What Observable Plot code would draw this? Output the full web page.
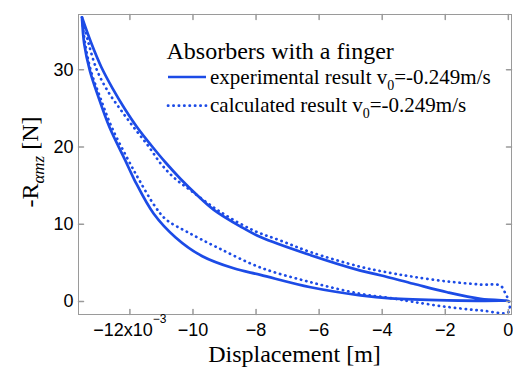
<!DOCTYPE html>
<html><head><meta charset="utf-8">
<script src="https://cdn.jsdelivr.net/npm/d3@7"></script>
<script src="https://cdn.jsdelivr.net/npm/@observablehq/plot@0.6"></script>
<style>
body{margin:0;background:#fff}
#chart{position:relative;width:513px;height:368px}
</style>
</head><body><div id="chart"></div>
<script>
// ---- data (displacement in units of 1e-3 m, force in N) ----
const xTicks = [-12, -10, -8, -6, -4, -2, 0];
const yTicks = [0, 10, 20, 30];
const xExponentLabel = "−3";
const legendTitle = "Absorbers with a finger";
const seriesNames = ["experimental result v", "calculated result v"];
const seriesSuffix = "=-0.249m/s";
const xLabel = "Displacement [m]";

// experimental loop: peak -> outer branch -> origin -> inner branch -> peak
const expX = [-13.52, -13.22, -12.90, -12.55, -12.17, -11.76, -11.32, -10.87, -10.40, -9.89, -9.35, -8.49, -7.86, -6.27, -4.69, -4.06, -3.01, -1.94, -0.88, 0.00,
              -1.94, -3.74, -4.69, -6.27, -7.86, -8.71, -9.72, -10.55, -11.25, -11.85, -12.15, -12.65, -13.00, -13.27, -13.45, -13.52];
const expY = [36.8, 33.4, 30.3, 27.6, 25.0, 22.5, 20.2, 18.0, 15.9, 13.85, 11.9, 9.7, 8.35, 6.0, 4.0, 3.4, 2.3, 1.2, 0.35, 0.1,
              0.15, 0.4, 0.8, 1.85, 3.45, 4.3, 5.9, 8.3, 11.4, 15.7, 18.3, 22.6, 26.5, 29.9, 33.4, 36.8];

// calculated loop
const calcX = [-13.52, -13.31, -13.04, -12.68, -12.27, -11.85, -11.41, -11.03, -10.62, -10.08, -9.13, -8.08, -7.23, -6.27, -4.69, -3.74, -3.01, -1.94, -0.88, -0.25, -0.09, 0.01, 0.01,
               -0.88, -1.94, -3.01, -3.74, -4.69, -6.27, -7.86, -9.23, -10.18, -10.85, -11.20, -11.70, -12.05, -12.58, -12.95, -13.24, -13.42, -13.52];
const calcY = [36.8, 33.4, 29.9, 27.1, 24.7, 22.4, 20.1, 17.9, 16.1, 14.4, 11.6, 9.2, 7.9, 6.4, 4.5, 3.7, 3.2, 2.6, 2.2, 2.05, 1.0, 0.1, -1.35,
               -1.15, -0.7, -0.05, 0.45, 1.0, 2.5, 4.4, 7.0, 9.0, 10.6, 12.3, 15.7, 18.3, 22.6, 26.5, 29.9, 33.4, 36.8];

const blue = "#1c4be6";
const gray = "#9a9a9a";
const serif = "'Liberation Serif','Times New Roman',serif";
const dotted = "0.3,5.1";

const expData = expX.map((x, i) => ({x, y: expY[i]}));
const calcData = calcX.map((x, i) => ({x, y: calcY[i]}));

const tickShape = {draw(context, l) { context.moveTo(0, 0); context.lineTo(0, -l); }};

const plot = Plot.plot({
  width: 513, height: 368,
  marginLeft: 78, marginRight: 2, marginTop: 14, marginBottom: 54,
  x: {domain: [-13.63, 0.1]},
  y: {domain: [-1.68, 37.16]},
  style: {fontFamily: "'Liberation Sans', Arial, sans-serif", fontSize: "18px", background: "white", color: "#000", overflow: "visible"},
  marks: [
    Plot.line(expData, {x: "x", y: "y", stroke: blue, strokeWidth: 2.7, curve: "catmull-rom"}),
    Plot.line(calcData, {x: "x", y: "y", stroke: blue, strokeWidth: 2.7, strokeDasharray: dotted, strokeLinecap: "round", curve: "catmull-rom"}),
    Plot.frame({stroke: gray}),
    Plot.vector(xTicks, {x: d => d, frameAnchor: "bottom", length: 5, anchor: "start", rotate: 0, shape: tickShape, stroke: gray}),
    Plot.vector(xTicks, {x: d => d, frameAnchor: "top", length: 5, anchor: "start", rotate: 180, shape: tickShape, stroke: gray}),
    Plot.vector(yTicks, {y: d => d, frameAnchor: "left", length: 5, anchor: "start", rotate: 90, shape: tickShape, stroke: gray}),
    Plot.vector(yTicks, {y: d => d, frameAnchor: "right", length: 5, anchor: "start", rotate: -90, shape: tickShape, stroke: gray}),
    Plot.axisX({ticks: xTicks, tickSize: 0, tickPadding: 9, label: null,
      tickFormat: d => d === -12 ? "−12x10" : (d < 0 ? "−" + Math.abs(d) : String(d))}),
    Plot.axisY({ticks: yTicks, tickSize: 0, tickPadding: 5, label: null})
  ]
});
document.getElementById("chart").appendChild(plot);

const svg = d3.select(plot);
// superscript exponent on the -12 tick label
svg.selectAll("text").filter(function() { return this.textContent === "−12x10"; })
  .append("tspan").attr("dy", "-13").attr("font-size", "12px").text(xExponentLabel);

// x axis title
svg.append("text").attr("x", 294.5).attr("y", 362).attr("text-anchor", "middle")
  .attr("font-family", serif).attr("font-size", "24px").text(xLabel);

// y axis title
const yt = svg.append("text").attr("transform", "translate(38,162) rotate(-90)")
  .attr("text-anchor", "middle").attr("font-family", serif).attr("font-size", "24px");
yt.append("tspan").text("-R");
yt.append("tspan").attr("dy", "6").attr("font-size", "17px").attr("font-style", "italic").text("αmz");
yt.append("tspan").attr("dy", "-6").text(" [N]");

// legend
const lg = svg.append("g").attr("font-family", serif).attr("text-anchor", "start");
lg.append("text").attr("x", 166.5).attr("y", 59).attr("font-size", "24px").text(legendTitle);
const rows = [{y: 77, text: seriesNames[0], dash: null, base: 84}, {y: 105.7, text: seriesNames[1], dash: dotted, base: 112}];
rows.forEach(r => {
  lg.append("line").attr("x1", 168).attr("x2", 206).attr("y1", r.y).attr("y2", r.y)
    .attr("stroke", blue).attr("stroke-width", 2.7).attr("stroke-dasharray", r.dash)
    .attr("stroke-linecap", r.dash ? "round" : "butt");
  const t = lg.append("text").attr("x", 210).attr("y", r.base).attr("font-size", "21px");
  t.append("tspan").text(r.text);
  t.append("tspan").attr("dy", "6").attr("font-size", "14px").text("0");
  t.append("tspan").attr("dy", "-6").text(seriesSuffix);
});
</script>
</body></html>
